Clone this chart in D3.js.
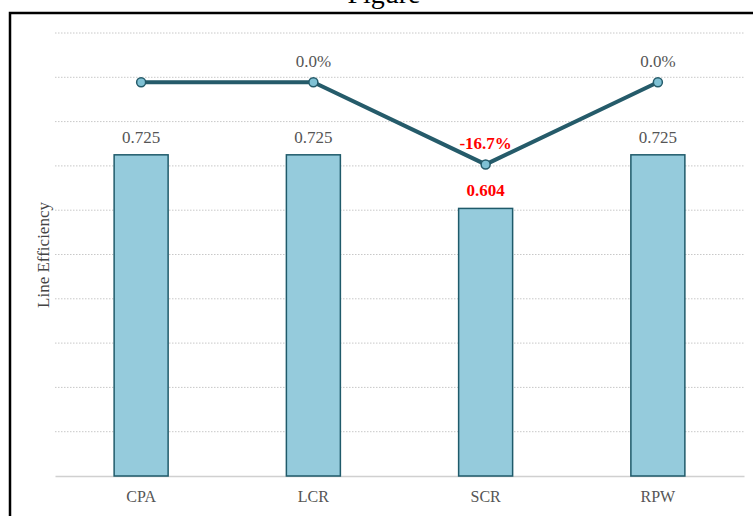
<!DOCTYPE html>
<html><head><meta charset="utf-8">
<script src="https://cdn.jsdelivr.net/npm/d3@7"></script>
<style>body{margin:0;background:#fff;}svg{display:block;}</style>
</head><body>
<svg id="c" width="753" height="516"></svg>
<script>
const categories = ["CPA", "LCR", "SCR", "RPW"];
const efficiency = [0.725, 0.725, 0.604, 0.725];
const relative = [1.0, 1.0, 0.833, 1.0];
const changeLabels = ["", "0.0%", "-16.7%", "0.0%"];
const yTicks = [0, 0.1, 0.2, 0.3, 0.4, 0.5, 0.6, 0.7, 0.8, 0.9, 1.0];

const svg = d3.select("#c");
const font = "'Liberation Serif','Times New Roman',serif";
const W = 753;
const x0 = 55, x1 = W - 9, yTop = 33, yBot = 476;

svg.append("rect").attr("x", 10).attr("y", 13).attr("width", 780).attr("height", 540)
  .attr("fill", "none").attr("stroke", "#000").attr("stroke-width", 2.5);

svg.append("text").attr("x", 384).attr("y", 3).attr("text-anchor", "middle")
  .attr("font-family", font).attr("font-size", 28).attr("fill", "#000").text("Figure");

const x = d3.scaleBand().domain(categories).range([x0, x1]);
const y = d3.scaleLinear().domain([0, 1.0]).range([yBot, yTop]);
const y2 = d3.scaleLinear().domain([0.2, 1.1]).range([yBot, yTop]);

// grid
svg.append("g").selectAll("line").data(yTicks.filter(d => d > 0)).join("line")
  .attr("x1", x0).attr("x2", x1).attr("y1", d => y(d)).attr("y2", d => y(d))
  .attr("stroke", "#c8c8c8").attr("stroke-width", 1).attr("stroke-dasharray", "1.5,1.5");

// y label
svg.append("text").attr("transform", "translate(49,255) rotate(-90)")
  .attr("text-anchor", "middle").attr("font-family", font).attr("font-size", 17)
  .attr("fill", "#444").text("Line Efficiency");

// x axis
const xAxis = svg.append("g").attr("transform", `translate(0,${yBot})`)
  .call(d3.axisBottom(x).tickSize(0).tickPadding(15));
xAxis.select(".domain").attr("stroke", "#d0d0d0").attr("stroke-width", 1.5);
xAxis.selectAll("text").attr("font-family", font).attr("font-size", 16).attr("fill", "#555");

const bw = 54;
const cx = d => x(d) + x.bandwidth() / 2;
const minVal = d3.min(efficiency);

svg.append("g").selectAll("rect").data(categories).join("rect")
  .attr("x", d => cx(d) - bw / 2).attr("width", bw)
  .attr("y", (d, i) => y(efficiency[i])).attr("height", (d, i) => yBot - y(efficiency[i]))
  .attr("fill", "#95cbdc").attr("stroke", "#1f5a6a").attr("stroke-width", 1.5);

svg.append("g").selectAll("text").data(categories).join("text")
  .attr("x", d => cx(d)).attr("y", (d, i) => y(efficiency[i]) - 12)
  .attr("text-anchor", "middle").attr("font-family", font).attr("font-size", 17)
  .attr("fill", (d, i) => efficiency[i] === minVal ? "#ff0000" : "#555")
  .attr("font-weight", (d, i) => efficiency[i] === minVal ? "bold" : "normal")
  .text((d, i) => efficiency[i].toFixed(3));

const line = d3.line().x((d, i) => cx(categories[i])).y(d => y2(d));
svg.append("path").datum(relative).attr("d", line)
  .attr("fill", "none").attr("stroke", "#255b6a").attr("stroke-width", 4);

svg.append("g").selectAll("circle").data(relative).join("circle")
  .attr("cx", (d, i) => cx(categories[i])).attr("cy", d => y2(d)).attr("r", 4.5)
  .attr("fill", "#7fc1d4").attr("stroke", "#255b6a").attr("stroke-width", 1.5);

const chg = categories.map((c, i) => ({c, v: relative[i], t: changeLabels[i]})).filter(d => d.t);
svg.append("g").selectAll("text").data(chg).join("text")
  .attr("x", d => cx(d.c)).attr("y", d => y2(d.v) - 15)
  .attr("text-anchor", "middle").attr("font-family", font).attr("font-size", 17)
  .attr("fill", d => d.v < 1 ? "#ff0000" : "#555")
  .attr("font-weight", d => d.v < 1 ? "bold" : "normal")
  .text(d => d.t);
</script>
</body></html>
